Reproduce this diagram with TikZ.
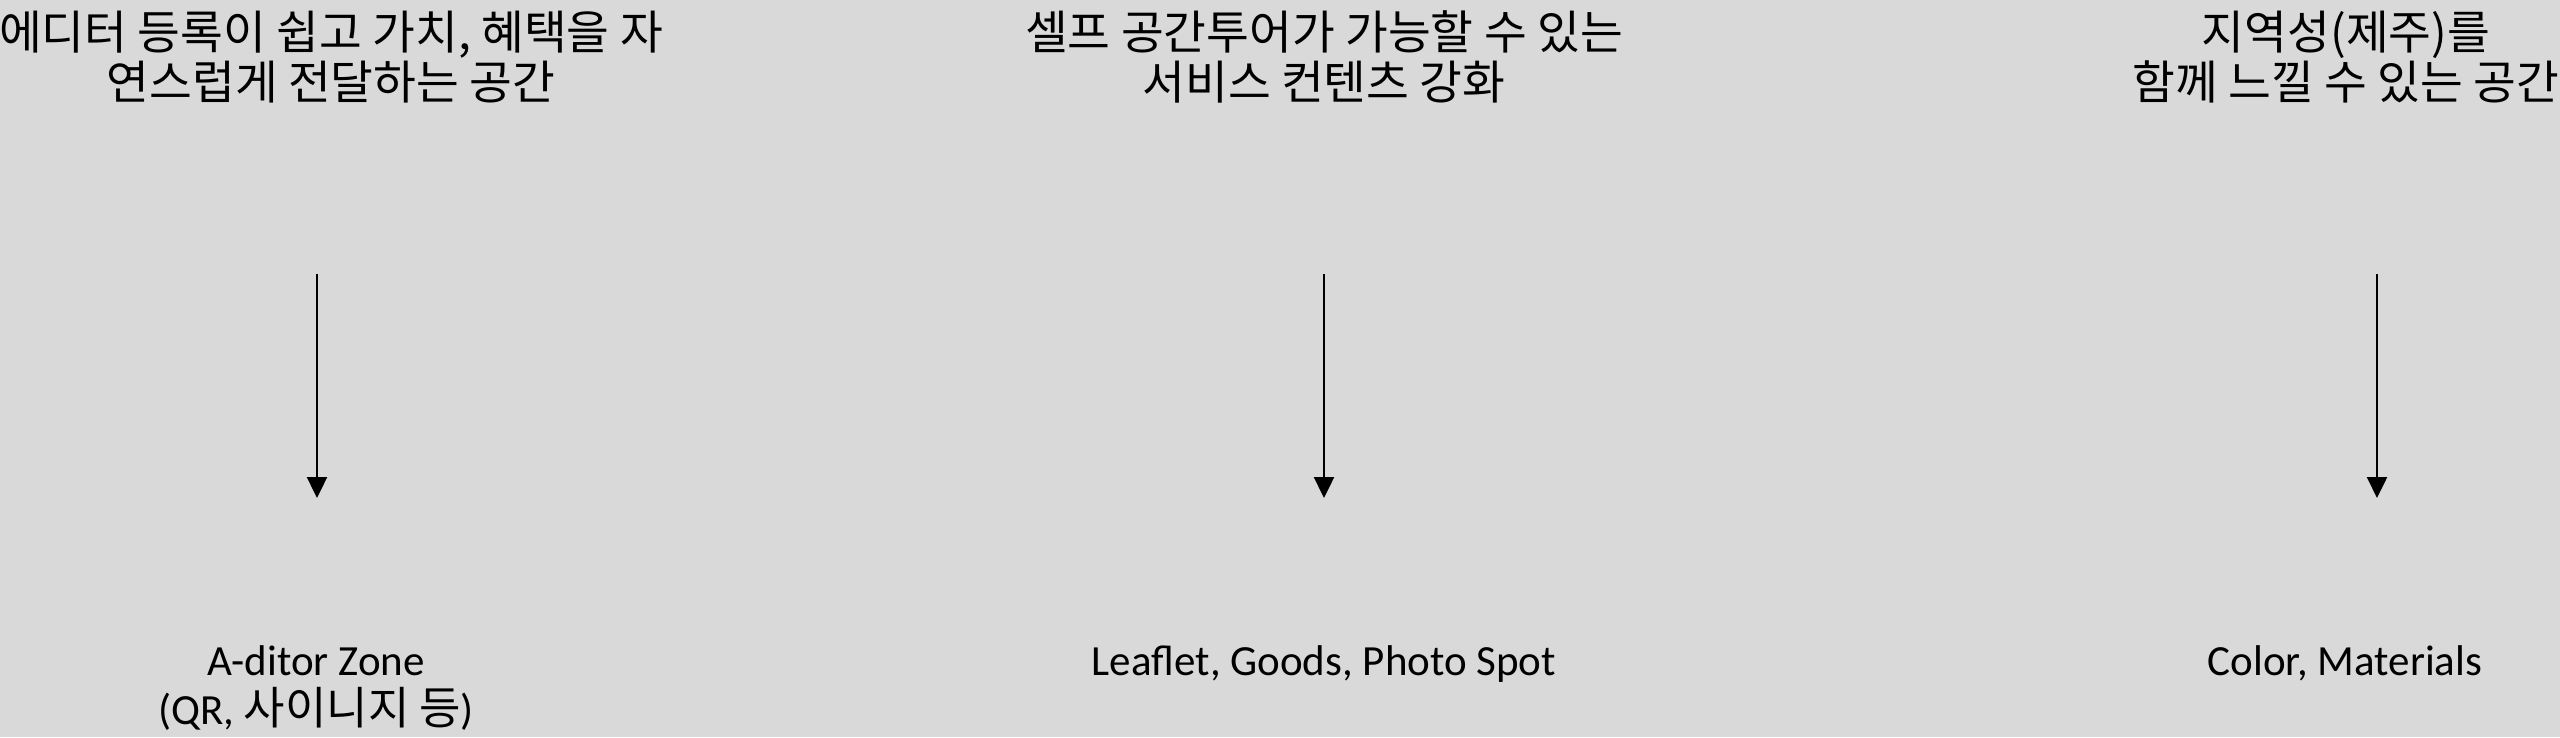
\documentclass[tikz,border=0pt]{standalone}
\usepackage{fontspec}
\setmainfont{Carlito}
\newfontfamily\krfont{Noto Sans CJK KR}
\usetikzlibrary{arrows.meta}
\definecolor{bgcol}{HTML}{D9D9D9}
\newcommand{\krsize}{\fontsize{46.5}{50}\selectfont}
\tikzset{
  krtext/.style={align=center, inner sep=0pt, font=\krfont\krsize, text=black},
  lattext/.style={align=center, inner sep=0pt, font=\fontsize{43}{49}\selectfont, text=black},
  flow/.style={line width=2.4pt, -{Triangle[width=20pt,length=21pt]}}
}
\begin{document}
\begin{tikzpicture}[x=1pt,y=-1pt]
\fill[bgcol] (0,0) rectangle (2560,737);
\useasboundingbox (0,0) rectangle (2560,737);
% top texts
\node[krtext] (top1) at (331,57) {에디터 등록이 쉽고 가치, 혜택을 자\\연스럽게 전달하는 공간};
\node[krtext] (top2) at (1324,57) {셀프 공간투어가 가능할 수 있는\\서비스 컨텐츠 강화};
\node[krtext] (top3) at (2346,57) {지역성(제주)를\\함께 느낄 수 있는 공간};
% bottom texts
\node[lattext, anchor=north] (bot1) at (316,645) {A-ditor Zone\\(QR, {\krfont\fontsize{45}{49}\selectfont 사이니지 등})};
\node[lattext, anchor=north] (bot2) at (1324,645) {Leaflet, Goods, Photo Spot};
\node[lattext, anchor=north] (bot3) at (2345,645) {Color, Materials};
% arrow ends
\coordinate (s1) at (317,274); \coordinate (e1) at (317,498);
\coordinate (s2) at (1324,274); \coordinate (e2) at (1324,498);
\coordinate (s3) at (2377,274); \coordinate (e3) at (2377,498);
\draw[flow] (s1) -- (e1);
\draw[flow] (s2) -- (e2);
\draw[flow] (s3) -- (e3);
\end{tikzpicture}
\end{document}
